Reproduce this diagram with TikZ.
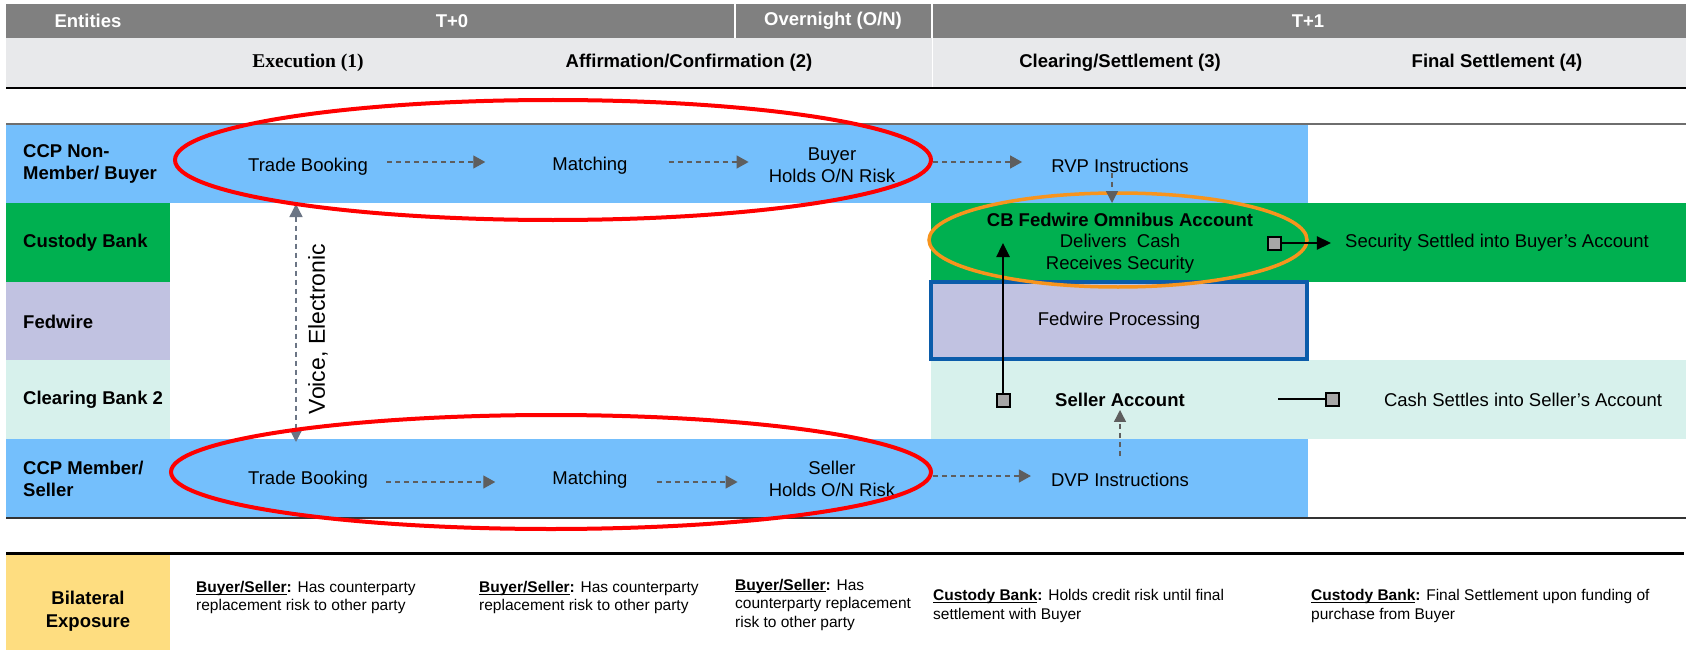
\documentclass[tikz,border=0pt]{standalone}
\usepackage{fontspec}
\setmainfont{Liberation Sans}
\newfontfamily\serifhead{Liberation Serif}
\usetikzlibrary{arrows.meta,calc}
\definecolor{hdrgray}{HTML}{808080}
\definecolor{lightrow}{HTML}{E8E9EB}
\definecolor{ccpblue}{RGB}{116,191,252}
\definecolor{cbgreen}{HTML}{00B050}
\definecolor{fedlav}{HTML}{C1C2E1}
\definecolor{mint}{HTML}{D7F1EC}
\definecolor{bilyellow}{HTML}{FEDD80}
\definecolor{arrgray}{HTML}{5E5E5E}
\definecolor{voicegray}{HTML}{6B7585}
\definecolor{fedblue}{HTML}{0B5CAA}
\definecolor{ringorange}{HTML}{F7941D}
\definecolor{sqgray}{HTML}{A6A6A6}
\definecolor{linegray}{HTML}{6E6E6E}
\newcommand{\ulbold}[1]{\textbf{\underline{\smash{#1}}:}}
\begin{document}
\begin{tikzpicture}[x=1pt,y=-1pt,
  txt/.style={font=\fontsize{18.5}{21.5}\selectfont, inner sep=0pt, align=center},
  btxt/.style={txt, font=\bfseries\fontsize{18.5}{21.5}\selectfont},
  hdr/.style={inner sep=0pt, text=white, font=\bfseries\fontsize{18.5}{21.5}\selectfont},
  lbl/.style={inner sep=0pt, anchor=west, align=left, font=\bfseries\fontsize{18.5}{22}\selectfont},
  btm/.style={inner sep=0pt, anchor=west, align=left, font=\fontsize{15.5}{18.5}\selectfont},
  band/.style={inner sep=0pt, outer sep=0pt, draw=none},
  darr/.style={draw=arrgray, line width=1.4pt, dash pattern=on 5pt off 4pt, -{Triangle[width=13pt,length=12pt]}},
  varr/.style={draw=voicegray, line width=1.4pt, dash pattern=on 5pt off 4pt, {Triangle[width=13pt,length=13pt]}-{Triangle[width=13pt,length=13pt]}},
  barr/.style={draw=black, line width=2.5pt, -{Triangle[width=13pt,length=14pt]}},
  sqbox/.style={draw=black, line width=2pt, fill=sqgray, minimum size=13pt, inner sep=0pt}]
\useasboundingbox (0,0) rectangle (1689,650);
\fill[white] (0,0) rectangle (1689,650);

% header
\fill[hdrgray] (6,4) rectangle (1686,38);
\draw[white, line width=2pt] (735,4) -- (735,38);
\draw[white, line width=2pt] (932,4) -- (932,38);
\fill[lightrow] (6,38) rectangle (1686,88);
\draw[white, line width=1pt] (932,38) -- (932,88);
\draw[black, line width=1.5pt] (6,88) -- (1686,88);
\node[hdr] (hent) at (88,21) {Entities};
\node[hdr] (ht0) at (452,21) {T+0};
\node[hdr] (hon) at (833,21) {Overnight (O/N)};
\node[hdr] (ht1) at (1308,21) {T+1};
\node[inner sep=0pt, font=\serifhead\bfseries\fontsize{19.5}{22}\selectfont] (hexe) at (308,63) {Execution (1)};
\node[btxt] (haff) at (689,63) {Affirmation/Confirmation (2)};
\node[btxt] (hclr) at (1120,63) {Clearing/Settlement (3)};
\node[btxt] (hfin) at (1497,63) {Final Settlement (4)};

% bands
\node[band, fill=ccpblue, minimum width=1302pt, minimum height=79pt] (r1) at (657,163.5) {};
\fill[cbgreen] (6,203) rectangle (170,282);
\fill[cbgreen] (931,203) rectangle (1686,282);
\fill[fedlav] (6,282) rectangle (170,360);
\fill[mint] (6,360) rectangle (170,439);
\fill[mint] (931,360) rectangle (1686,439);
\node[band, fill=ccpblue, minimum width=1302pt, minimum height=79pt] (r5) at (657,478.5) {};
\draw[linegray, line width=1.5pt] (6,124) -- (1686,124);
\draw[black!80, line width=1.5pt] (6,518) -- (1686,518);
\node[txt, draw=fedblue, line width=3.5pt, fill=fedlav, minimum width=376pt, minimum height=77pt] (fwp) at (1119,320.5) {Fedwire Processing};

% entity labels
\node[lbl] (lnon) at (23,164) {CCP Non-\\Member/ Buyer};
\node[lbl] (lcb) at (23,243) {Custody Bank};
\node[lbl] (lfw) at (23,322) {Fedwire};
\node[lbl] (lcb2) at (23,400) {Clearing Bank 2};
\node[lbl] (lmem) at (23,479) {CCP Member/\\Seller};

% row 1
\node[txt] (tb1) at (308,167) {Trade Booking};
\node[txt] (m1) at (590,166) {Matching};
\node[txt] (buy) at (832,165) {Buyer\\Holds O/N Risk};
\node[txt] (rvp) at (1120,166) {RVP Instructions};
\draw[darr] ([xshift=19pt,yshift=5pt]tb1.east) -- ([xshift=-67pt,yshift=4pt]m1.west);
\draw[darr] ([xshift=41pt,yshift=4pt]m1.east) -- ([xshift=-20pt,yshift=3pt]buy.west);
\draw[darr] ([xshift=38pt,yshift=3pt]buy.east) -- ([xshift=-29pt,yshift=4pt]rvp.west);

% row 5
\node[txt] (tb5) at (308,480) {Trade Booking};
\node[txt] (m5) at (590,480) {Matching};
\node[txt] (sel) at (832,479) {Seller\\Holds O/N Risk};
\node[txt] (dvp) at (1120,480) {DVP Instructions};
\draw[darr] ([xshift=18pt,yshift=-2pt]tb5.east) -- ([xshift=-57pt,yshift=-2pt]m5.west);
\draw[darr] ([xshift=29pt,yshift=-2pt]m5.east) -- ([xshift=-31pt,yshift=-3pt]sel.west);
\draw[darr] ([xshift=38pt,yshift=3pt]sel.east) -- ([xshift=-20pt,yshift=4pt]dvp.west);

% custody / fedwire / clearing
\node[txt] (omni) at (1120,243) {{\bfseries CB Fedwire Omnibus Account}\\Delivers\ \ Cash\\Receives Security};
\node[txt] (secset) at (1497,243) {Security Settled into Buyer’s Account};
\node[btxt] (sacct) at (1120,400) {Seller Account};
\node[txt] (cashset) at (1523,400) {Cash Settles into Seller’s Account};

\draw[ringorange, line width=3.5pt] (1118,240) ellipse [x radius=189pt, y radius=47pt];

\coordinate (gtop) at (0,203);
\draw[darr, -{Triangle[width=12pt,length=12pt]}] ([xshift=-8pt]rvp.south) -- ([xshift=-8pt]rvp.south |- gtop);
\draw[darr, -{Triangle[width=12pt,length=12pt]}] ([yshift=17pt]dvp.north) -- ([yshift=-3pt]dvp.north |- sacct.south);

\node[sqbox] (sq1) at (1003,400) {};
\draw[barr] (sq1.north) -- (sq1.north |- omni.center);
\node[sqbox] (sq2) at (1274,243) {};
\draw[barr, shorten >=14pt] (sq2.east) -- (secset.west);
\node[sqbox] (sq3) at (1332,399) {};
\coordinate (cstart) at (1278,399);
\draw[black, line width=2.5pt] (cstart) -- (sq3.west);

% voice arrow
\coordinate (vx) at (296,0);
\draw[varr] ([yshift=-1pt]r1.south -| vx) -- ([yshift=-3pt]r5.north -| vx);
\node[rotate=90, inner sep=0pt, font=\fontsize{23}{23}\selectfont] (voice) at (318,329) {Voice, Electronic};

% red rings
\draw[red, line width=4pt] (553,160) ellipse [x radius=378pt, y radius=60pt];
\draw[red, line width=4pt] (551,472) ellipse [x radius=380pt, y radius=57pt];

% bottom
\draw[black, line width=3pt] (6,553) -- (1684,553);
\fill[bilyellow] (6,555) rectangle (170,650);
\node[btxt, font=\bfseries\fontsize{18.5}{23}\selectfont] (bil) at (88,611) {Bilateral\\Exposure};
\node[btm] (bt1) at (196,598) {\ulbold{Buyer/Seller} Has counterparty\\replacement risk to other party};
\node[btm] (bt2) at (479,598) {\ulbold{Buyer/Seller} Has counterparty\\replacement risk to other party};
\node[btm] (bt3) at (735,605) {\ulbold{Buyer/Seller} Has\\counterparty replacement\\risk to other party};
\node[btm] (bt4) at (933,606) {\ulbold{Custody Bank} Holds credit risk until final\\settlement with Buyer};
\node[btm] (bt5) at (1311,606) {\ulbold{Custody Bank} Final Settlement upon funding of\\purchase from Buyer};
\end{tikzpicture}
\end{document}
